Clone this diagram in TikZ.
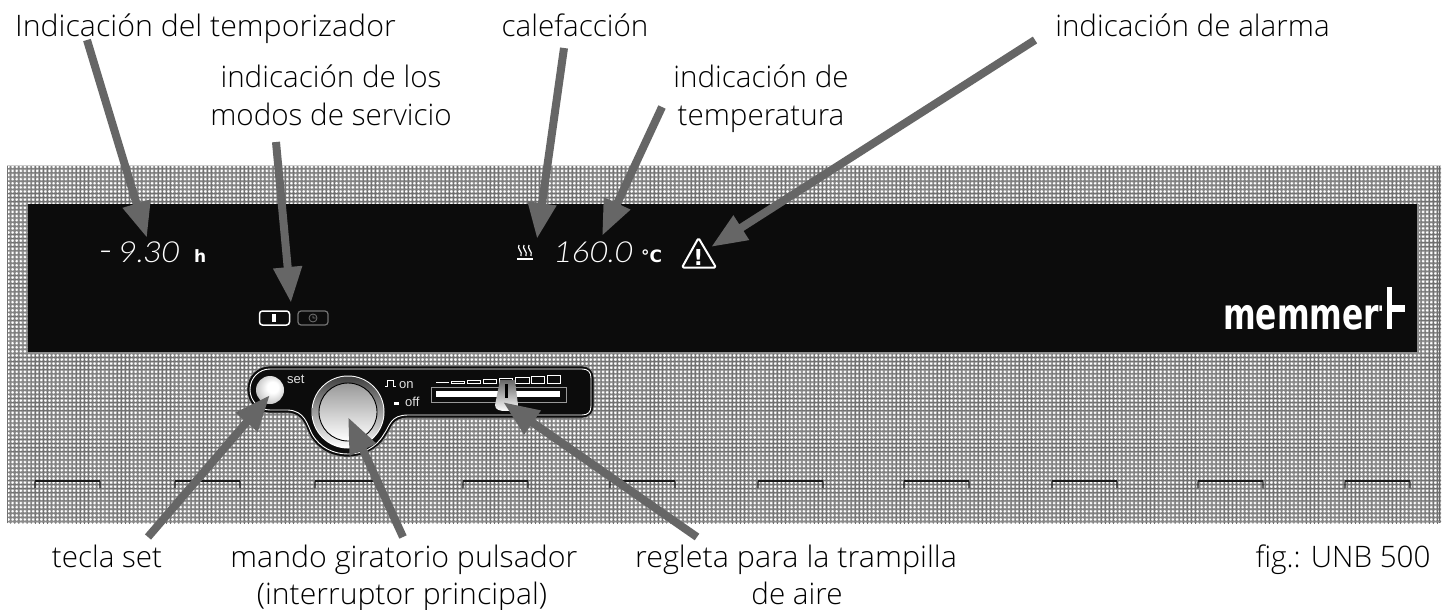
\documentclass[tikz,border=0pt]{standalone}
\usepackage{fontspec}
\setmainfont{Open Sans Light}
\newfontfamily\panelfont{Liberation Sans}
\newfontfamily\logofont{DejaVu Sans}
\newfontfamily\segfont{Lato Light}
\usetikzlibrary{arrows.meta,patterns,calc}
\pgfdeclarepatternformonly{darkdots}{\pgfqpoint{-2.1pt}{-2.1pt}}{\pgfqpoint{2.1pt}{2.1pt}}{\pgfqpoint{4.1pt}{4.1pt}}{\pgfpathrectangle{\pgfqpoint{-2.05pt}{-2.05pt}}{\pgfqpoint{4.1pt}{0.9pt}}\pgfpathrectangle{\pgfqpoint{-2.05pt}{-2.05pt}}{\pgfqpoint{0.9pt}{4.1pt}}\pgfusepath{fill}}
\pgfdeclarepatternformonly{lightdots}{\pgfqpoint{-2.1pt}{-2.1pt}}{\pgfqpoint{2.1pt}{2.1pt}}{\pgfqpoint{4.1pt}{4.1pt}}{\pgfpathcircle{\pgfqpoint{0.3pt}{0.3pt}}{1.3pt}\pgfusepath{fill}}
\pgfdeclareradialshading{btnshade}{\pgfqpoint{6bp}{6bp}}{color(0bp)=(white);color(10bp)=(white);color(50bp)=(black!50)}
\definecolor{arrowgray}{HTML}{666666}
\definecolor{panelblack}{HTML}{0C0C0C}
\tikzset{
  callout/.style={draw=arrowgray,line width=8pt,-{Triangle[width=27pt,length=36pt]}},
  lbl/.style={font=\fontsize{29.6}{37}\selectfont,text=black,inner sep=0pt,anchor=base},
  widelbl/.style={lbl,transform shape,xscale=#1},
  seg/.style={font=\segfont\fontsize{29}{29}\selectfont,text=white,inner sep=0pt,anchor=base west,transform shape,xscale=1.06,xslant=0.13},
  boldunit/.style={font=\logofont\bfseries\fontsize{17}{17}\selectfont,text=white,inner sep=0pt,anchor=base west},
  small/.style={font=\panelfont\fontsize{13}{13}\selectfont,text=white!88!black,inner sep=0pt,anchor=base west},
  slotside/.style={draw=black!85,line width=1.2pt,rounded corners=1pt},
  slotlow/.style={draw=black!50,line width=0.8pt},
  slottop/.style={draw=black!90,line width=1.8pt},
  scalebox/.style={draw=white,line width=0.7pt},
}
\begin{document}
\begin{tikzpicture}[x=1pt,y=-1pt]
\useasboundingbox (0,0) rectangle (1449,610);
\fill[white] (0,0) rectangle (1449,610);
% housing
\fill[black!34] (7,165) rectangle (1441,523);
\pattern[pattern=darkdots,pattern color=black!56] (7,165) rectangle (1441,523);
\pattern[pattern=lightdots,pattern color=white] (7,165) rectangle (1441,523);
\draw[black!55,line width=1.2pt] (7.5,523) -- (7.5,166);
\draw[black!20,line width=1.5pt] (7,165.5) -- (1441,165.5);
\draw[black!60,line width=1.4pt] (1439.5,166) -- (1439.5,523);
\draw[black!45,line width=1.4pt] (8,521.5) -- (1440,521.5);
% display
\draw[black!45,line width=1.4pt] (27,353) -- (1418,353) -- (1418,204);
\fill[panelblack] (28,204) rectangle (1417,352);
% slots
\foreach \sx in {35,175,315,463,610,758,904,1052,1198,1345}{
  \draw[slotlow] (\sx,488) -- ++(65,0);
  \draw[slotside] (\sx,488) -- (\sx,481) -- ++(65,0) -- ++(0,7);
  \draw[slottop] (\sx,481) -- ++(65,0);
}
% control strip
\fill[panelblack,draw=white!55!black,line width=0.7pt] (270,366) -- (582,366) .. controls (589,366) and (594,371) .. (594,378) -- (594,406) .. controls (594,413) and (589,418) .. (582,418) -- (408,418) .. controls (392,418) and (392,428) .. (386,436) .. controls (378,450) and (362,457) .. (348,457) .. controls (332,457) and (318,450) .. (310,436) .. controls (305,426) and (303,414) .. (288,413) -- (270,413) .. controls (257,413) and (247,403) .. (247,389.5) .. controls (247,376) and (257,366) .. (270,366) -- cycle;
\draw[white,line width=0.9pt] (270,369) -- (582,369) .. controls (588,369) and (591,372) .. (591,378) -- (591,406) .. controls (591,412) and (588,415) .. (582,415) -- (408,415) .. controls (390,415) and (390,426) .. (384,434) .. controls (376,448) and (362,454) .. (348,454) .. controls (334,454) and (320,448) .. (312,434) .. controls (307,424) and (305,411) .. (288,410) -- (270,410) .. controls (259,410) and (250,401) .. (250,389.5) .. controls (250,378) and (259,369) .. (270,369) -- cycle;
% set button
\shade[shading=btnshade] (270,390) circle[radius=14];
\node[small] (settxt) at (287,383) {set};
% knob
\fill[white] (348,412) circle[radius=36.5];
\shade[top color=black!75,bottom color=white] (348,412) circle[radius=35.5];
\shade[top color=black!40,middle color=white,bottom color=white] (348,412) circle[radius=29];
\draw[black,line width=0.9pt] (348,412) circle[radius=29];
% on off
\draw[white,line width=1pt] (385,386) -- (387.5,386) -- (387.5,380) -- (393,380) -- (393,386) -- (396,386);
\node[small] (ontxt) at (399,388) {on};
\fill[white] (394,402) rectangle (399,405);
\node[small] (offtxt) at (405,406) {off};
% scale of air flap
\draw[scalebox,line width=1.2pt] (436,382.6) -- (449,382.6);
\foreach \bx/\bw/\bh in {451/13/2,467/13/3,483/13/4,499/13/5,515/14/6,531/13/7,547/13/8}{
  \draw[scalebox] (\bx,383) rectangle ++(\bw,-\bh);
}
\draw[white!60!black,line width=0.7pt] (431,387) rectangle (566,402);
\fill[white] (436,391) rectangle (560,397);
\shade[top color=black!60,bottom color=white] (500,380) -- (515,380) -- (518,405) .. controls (518,410) and (512,411) .. (506,411) .. controls (500,411) and (495,410) .. (495,405) -- cycle;
\fill[black] (505,384) rectangle (508,398);
% display contents
\node[seg] (timerread) at (97,262) {{\fontsize{36}{36}\selectfont -}\hspace{6pt}9.30};
\node[boldunit] (hunit) at (194,262) {h};
\node[seg] (tempread) at (553,262) {160.0};
\node[boldunit] (cunit) at (641,262) {°C};
% heating symbol
\draw[white,line width=1.8pt] (517,259) -- (533,259);
\foreach \hx in {520,525,530}{
  \draw[white,line width=1.2pt] (\hx-1,245) .. controls (\hx-3.5,249) and (\hx+3,251) .. (\hx+1,256);
}
% alarm symbol
\draw[white,line width=2pt,line join=round,rounded corners=1.5pt] (698.5,238) -- (716,267.5) -- (682,267.5) -- cycle;
\node[font=\logofont\bfseries\fontsize{22}{22}\selectfont,text=white,inner sep=0pt,anchor=base] (alarmmark) at (698.5,265) {!};
% mode symbols
\draw[white,line width=1.5pt,rounded corners=3pt] (259.5,311) rectangle (289.5,325);
\fill[white] (272,314) rectangle (276,322);
\draw[black!55,line width=1.2pt,rounded corners=3pt] (298,311) rectangle (328,325);
\draw[black!55,line width=0.8pt] (313,318) circle[radius=4] (313,315.5) -- (313,318) -- (315.5,318);
% logo
\node[font=\logofont\bfseries\fontsize{43}{43}\selectfont,text=white,inner sep=0pt,anchor=base west,transform shape,xscale=0.729] (logo) at (1223,329) {memmert};
\fill[panelblack] (1382,285) rectangle (1387,331);
\fill[panelblack] (1392,285) rectangle (1412,331);
\fill[white] (1387,287) rectangle (1392,329);
\fill[white] (1392,305) rectangle (1405,312);
% labels
\node[widelbl=1.024] (l1) at (205.5,37) {Indicación del temporizador};
\node[lbl] (l2) at (575,37) {calefacción};
\node[lbl] (l3) at (1192.5,37) {indicación de alarma};
\node[lbl] (l4a) at (331,88) {indicación de los};
\node[lbl] (l4b) at (331,125) {modos de servicio};
\node[lbl] (l5a) at (761,88) {indicación de};
\node[lbl] (l5b) at (761,125) {temperatura};
\node[lbl] (l6) at (107,567) {tecla set};
\node[widelbl=1.024] (l7a) at (404,567) {mando giratorio pulsador};
\node[widelbl=1.018] (l7b) at (402,604) {(interruptor principal)};
\node[widelbl=1.03] (l8a) at (796,567) {regleta para la trampilla};
\node[lbl] (l8b) at (797,604) {de aire};
\node[lbl] (l9) at (1343,567) {fig.: UNB 500};
% callouts
\coordinate (t1) at (87,40); \coordinate (h1) at (147,238);
\coordinate (t2) at (276,142); \coordinate (h2) at (291,303);
\coordinate (t3) at (564,48); \coordinate (h3) at (537,239);
\coordinate (t4) at (662,107); \coordinate (h4) at (602,236);
\coordinate (t5) at (1035,40); \coordinate (h5) at (711,247);
\coordinate (t6) at (148,537); \coordinate (h6) at (270,395);
\coordinate (t7) at (403,537); \coordinate (h7) at (348,417);
\coordinate (t8) at (697,537); \coordinate (h8) at (503,402);
\foreach \n in {1,...,8}{ \draw[callout] (t\n) -- (h\n); }
\end{tikzpicture}
\end{document}
